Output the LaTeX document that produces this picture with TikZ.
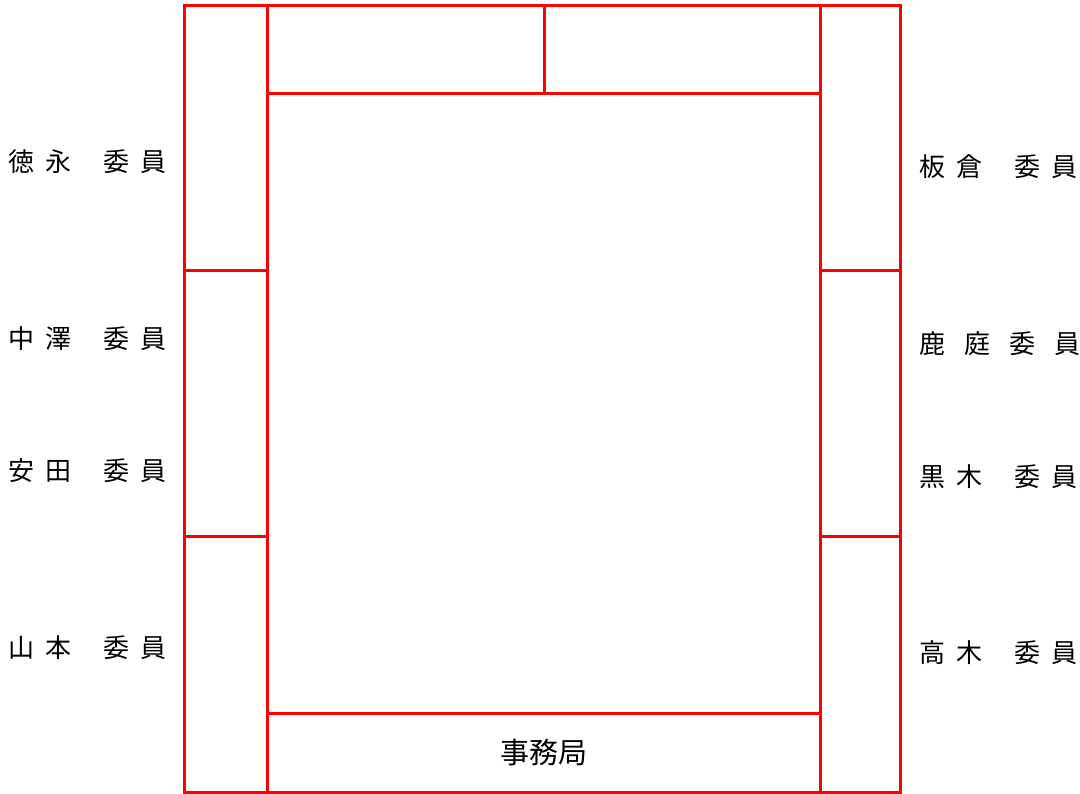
\documentclass[tikz,border=0pt]{standalone}
\usepackage{fontspec}
\setmainfont{Noto Sans CJK JP}
\newcommand{\iin}[2]{#1\hspace{11pt}#2\hspace{32pt}委\hspace{11pt}員}

\begin{document}
\begin{tikzpicture}[x=1pt,y=-1pt,font=\fontsize{26}{26}\selectfont]
        \tikzset{seat/.style={anchor=west,inner sep=0pt},
                 wall/.style={draw=red,line width=3pt}}
        \useasboundingbox (0,0) rectangle (1080,794);

        % room
        \draw[wall] (184,6) rectangle (900,792);
        \draw[wall] (267,6) -- (267,792);
        \draw[wall] (820,6) -- (820,792);
        \draw[wall] (267,94) -- (820,94);
        \draw[wall] (544,6) -- (544,94);
        \draw[wall] (267,713) -- (820,713);
        \draw[wall] (184,271) -- (267,271);
        \draw[wall] (184,536) -- (267,536);
        \draw[wall] (820,271) -- (900,271);
        \draw[wall] (820,536) -- (900,536);

        % left seats
        \node[seat] (tokunaga) at (8,162) {\iin{徳}{永}};
        \node[seat] (nakazawa) at (8,339) {\iin{中}{澤}};
        \node[seat] (yasuda) at (8,471) {\iin{安}{田}};
        \node[seat] (yamamoto) at (8,648) {\iin{山}{本}};

        % right seats
        \node[seat] (itakura) at (919,167) {\iin{板}{倉}};
        \node[seat] (kaniwa) at (919,344) {鹿\hspace{19pt}庭\hspace{19pt}委\hspace{19pt}員};
        \node[seat] (kuroki) at (919,477) {\iin{黒}{木}};
        \node[seat] (takagi) at (919,653) {\iin{高}{木}};

        \node[font=\fontsize{29}{29}\selectfont] (jimukyoku) at (544,753) {事務局};
    \end{tikzpicture}
\end{document}
